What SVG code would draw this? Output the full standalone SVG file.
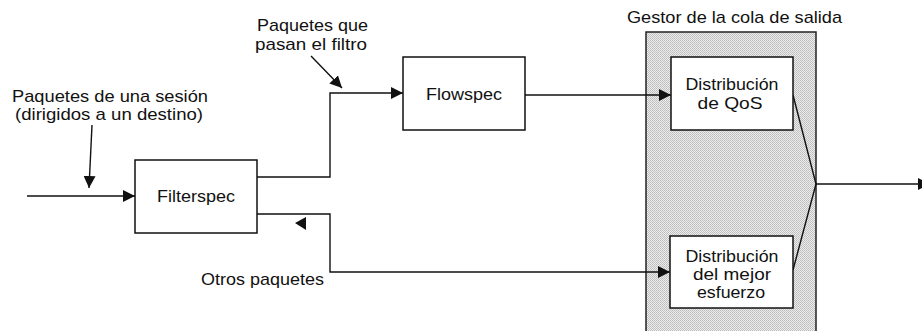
<svg xmlns="http://www.w3.org/2000/svg" width="922" height="331" viewBox="0 0 922 331">
<style>
text{font-family:"Liberation Sans",Arial,sans-serif;font-size:17px;fill:#111}
.box{fill:#fff;stroke:#111;stroke-width:1.5}
.ln{fill:none;stroke:#111;stroke-width:1.4}
.mid{text-anchor:middle}
</style>
<defs>
<marker id="ah" viewBox="0 0 10 10" refX="10" refY="5" markerWidth="12" markerHeight="12" markerUnits="userSpaceOnUse" orient="auto">
<path d="M0,0 L10,5 L0,10 Z" fill="#111"/>
</marker>
<pattern id="stip" width="2" height="2" patternUnits="userSpaceOnUse">
<rect width="2" height="2" fill="#ececec"/>
<rect width="1" height="1" fill="#bcbcbc"/>
<rect x="1" y="1" width="1" height="1" fill="#c4c4c4"/>
</pattern>
</defs>

<g id="gestor">
<path d="M646,332 V32 H816 V332" fill="url(#stip)" stroke="#222" stroke-width="1.5"/>
<text x="627" y="23" textLength="215" lengthAdjust="spacingAndGlyphs">Gestor de la cola de salida</text>
</g>

<g id="labels">
<text x="12" y="102" textLength="196" lengthAdjust="spacingAndGlyphs">Paquetes de una sesión</text>
<text x="15" y="120" textLength="188" lengthAdjust="spacingAndGlyphs">(dirigidos a un destino)</text>
<text x="257" y="31" textLength="111" lengthAdjust="spacingAndGlyphs">Paquetes que</text>
<text x="255" y="50" textLength="112" lengthAdjust="spacingAndGlyphs">pasan el filtro</text>
<text x="201" y="285" textLength="123" lengthAdjust="spacingAndGlyphs">Otros paquetes</text>
</g>

<g id="connectors">
<line class="ln" x1="27" y1="196" x2="135" y2="196" marker-end="url(#ah)"/>
<line class="ln" x1="92" y1="125" x2="89" y2="188" marker-end="url(#ah)"/>
<path class="ln" d="M257,177 H330 V93 H403" marker-end="url(#ah)"/>
<line class="ln" x1="311" y1="56" x2="342" y2="88" marker-end="url(#ah)"/>
<line class="ln" x1="525" y1="95" x2="671" y2="95" marker-end="url(#ah)"/>
<path class="ln" d="M257,214 H330 V272 H670" marker-end="url(#ah)"/>
<path d="M295,223 L306,217 L306,230 Z" fill="#111"/>
<path class="ln" d="M793,95 L816,184 L793,270"/>
<line class="ln" x1="816" y1="184" x2="930" y2="184" marker-end="url(#ah)"/>
</g>

<g id="filterspec">
<rect class="box" x="135" y="160" width="122" height="73"/>
<text class="mid" x="196" y="202" textLength="78" lengthAdjust="spacingAndGlyphs">Filterspec</text>
</g>

<g id="flowspec">
<rect class="box" x="403" y="57" width="122" height="73"/>
<text class="mid" x="464" y="100" textLength="76" lengthAdjust="spacingAndGlyphs">Flowspec</text>
</g>

<g id="qos">
<rect class="box" x="671" y="57" width="122" height="73"/>
<text class="mid" x="732" y="90" textLength="93" lengthAdjust="spacingAndGlyphs">Distribución</text>
<text class="mid" x="730" y="109" textLength="65" lengthAdjust="spacingAndGlyphs">de QoS</text>
</g>

<g id="mejor">
<rect class="box" x="670" y="236" width="123" height="72"/>
<text class="mid" x="732" y="262" textLength="93" lengthAdjust="spacingAndGlyphs">Distribución</text>
<text class="mid" x="732" y="280" textLength="78" lengthAdjust="spacingAndGlyphs">del mejor</text>
<text class="mid" x="731" y="298" textLength="68" lengthAdjust="spacingAndGlyphs">esfuerzo</text>
</g>
</svg>
